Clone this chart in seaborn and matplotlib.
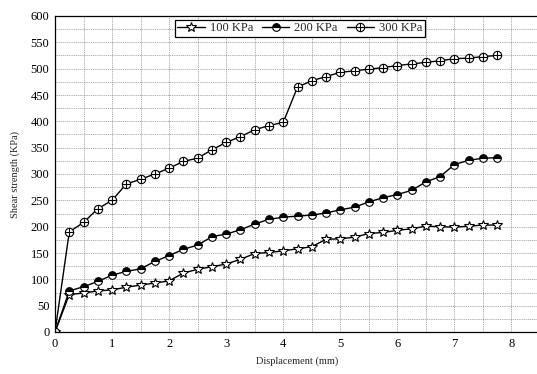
import numpy as np
import matplotlib
matplotlib.use("Agg")
import matplotlib.pyplot as plt
import matplotlib.path as mpath
from matplotlib.ticker import MultipleLocator
import seaborn as sns

displacement = [0, 0.25, 0.5, 0.75, 1.0, 1.25, 1.5, 1.75, 2.0, 2.25, 2.5, 2.75,
                3.0, 3.25, 3.5, 3.75, 4.0, 4.25, 4.5, 4.75, 5.0, 5.25, 5.5, 5.75,
                6.0, 6.25, 6.5, 6.75, 7.0, 7.25, 7.5, 7.75]
s100 = [0, 71, 74, 78, 80, 85, 89, 93, 97, 112, 119, 124,
        129, 138, 149, 151, 154, 158, 162, 176, 177, 180, 187, 189,
        193, 196, 201, 200, 199, 201, 203, 203]
s200 = [0, 78, 86, 96, 108, 115, 120, 134, 145, 157, 165, 181,
        186, 194, 205, 214, 218, 220, 222, 226, 232, 237, 247, 255,
        261, 269, 285, 295, 318, 326, 330, 331]
s300 = [0, 190, 208, 234, 250, 281, 290, 300, 311, 324, 330, 346,
        360, 371, 384, 392, 398, 465, 477, 485, 493, 496, 499, 502,
        506, 509, 512, 515, 519, 520, 523, 525]
labels = ["100 KPa", "200 KPa", "300 KPa"]

sns.set_style("white")
plt.rcParams["font.family"] = ["Liberation Serif", "DejaVu Serif"]

fig = plt.figure(figsize=(5.37, 3.74), dpi=100)
ax = fig.add_axes([55/537, 42/374, 485/537, 316/374])

# circle with plus marker
circ = mpath.Path.unit_circle()
plus = mpath.Path([(-1, 0), (1, 0), (0, -1), (0, 1)],
                  [mpath.Path.MOVETO, mpath.Path.LINETO, mpath.Path.MOVETO, mpath.Path.LINETO])
circplus = mpath.Path.make_compound_path(circ, plus)

common = dict(color="black", linewidth=1.0, markeredgecolor="black", markeredgewidth=0.8)
sns.lineplot(x=displacement, y=s100, ax=ax, marker="*", markersize=7,
             markerfacecolor="white", label=labels[0], **common)
sns.lineplot(x=displacement, y=s200, ax=ax, marker="o", markersize=5.5,
             fillstyle="top", markerfacecolor="black", markerfacecoloralt="white",
             label=labels[1], **common)
sns.lineplot(x=displacement, y=s300, ax=ax, marker=circplus, markersize=6,
             markerfacecolor="white", label=labels[2], **common)

ax.set_xlim(0, 8.5)
ax.set_ylim(0, 600)
ax.xaxis.set_major_locator(MultipleLocator(1))
ax.xaxis.set_minor_locator(MultipleLocator(0.5))
ax.yaxis.set_major_locator(MultipleLocator(50))
ax.yaxis.set_minor_locator(MultipleLocator(25))
ax.grid(True, which="both", color="#8a8a8a", linestyle=(0, (1.5, 1.2)), linewidth=0.5)
ax.set_axisbelow(True)
ax.tick_params(which="both", direction="in", length=3, width=0.8, labelsize=9,
               colors="black", pad=4)
ax.tick_params(which="minor", length=2)
for sp in ax.spines.values():
    sp.set_color("black")
    sp.set_linewidth(0.9)

ax.set_xlabel("Displacement (mm)", fontsize=7.5, labelpad=5)
ax.set_ylabel("Shear strength (KPa)", fontsize=7.5, labelpad=8)

leg = ax.legend(loc="upper center", ncol=3, fontsize=9, frameon=True, fancybox=False,
                edgecolor="black", framealpha=1, borderpad=0.2, handlelength=2.2,
                handletextpad=0.4, columnspacing=0.7, borderaxespad=0.3,
                bbox_to_anchor=(0.505, 1.0))
leg.get_frame().set_linewidth(0.9)

fig.savefig("out.png", dpi=100, facecolor="white")
